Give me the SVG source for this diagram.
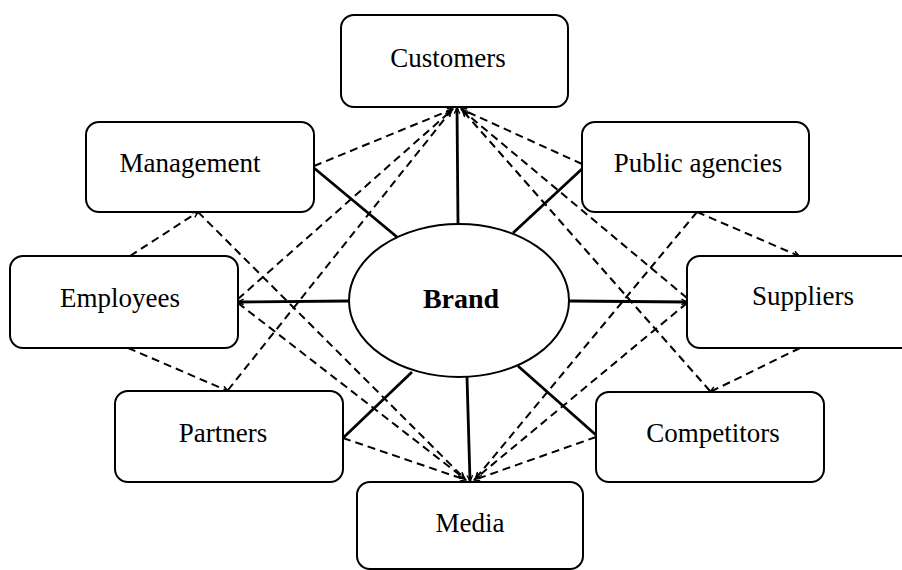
<svg xmlns="http://www.w3.org/2000/svg" width="902" height="570" viewBox="0 0 902 570">
<style>
.box{fill:#fff;stroke:#000;stroke-width:2}
.lbl{font-family:"Liberation Serif","Times New Roman",serif;font-size:27px;fill:#000;text-anchor:middle}
.brand{font-family:"Liberation Serif","Times New Roman",serif;font-size:28px;font-weight:bold;fill:#000;text-anchor:middle}
.solid{stroke:#000;stroke-width:2.8;fill:none}
.dash{stroke:#000;stroke-width:2;fill:none;stroke-dasharray:8 5}
</style>
<defs>
<marker id="ah" viewBox="0 0 10 10" refX="9" refY="5" markerWidth="7" markerHeight="7" markerUnits="userSpaceOnUse" orient="auto-start-reverse">
<path d="M1,1 L9,5 L1,9" fill="none" stroke="#000" stroke-width="2"/>
</marker>
</defs>
<rect width="902" height="570" fill="#fff"/>
<g id="connectors">
<line class="solid" x1="458" y1="224" x2="457" y2="108" marker-end="url(#ah)"/>
<line class="solid" x1="397" y1="237" x2="314" y2="168"/>
<line class="solid" x1="513" y1="233" x2="583" y2="168"/>
<line class="solid" x1="569" y1="301" x2="687" y2="302" marker-end="url(#ah)"/>
<line class="solid" x1="349" y1="301" x2="238" y2="302" marker-end="url(#ah)"/>
<line class="solid" x1="412" y1="372" x2="343" y2="438"/>
<line class="solid" x1="467" y1="377" x2="470" y2="481" marker-end="url(#ah)"/>
<line class="solid" x1="518" y1="366" x2="596" y2="435"/>
<line class="dash" x1="314" y1="166" x2="453" y2="109" marker-end="url(#ah)"/>
<line class="dash" x1="238" y1="299" x2="452" y2="110" marker-end="url(#ah)"/>
<line class="dash" x1="228" y1="390" x2="451" y2="111" marker-end="url(#ah)"/>
<line class="dash" x1="582" y1="164" x2="461" y2="109" marker-end="url(#ah)"/>
<line class="dash" x1="687" y1="298" x2="462" y2="110" marker-end="url(#ah)"/>
<line class="dash" x1="710" y1="391" x2="463" y2="111" marker-end="url(#ah)"/>
<line class="dash" x1="343" y1="438" x2="466" y2="480" marker-end="url(#ah)"/>
<line class="dash" x1="238" y1="303" x2="465" y2="479" marker-end="url(#ah)"/>
<line class="dash" x1="198" y1="212" x2="464" y2="478" marker-end="url(#ah)"/>
<line class="dash" x1="596" y1="437" x2="474" y2="480" marker-end="url(#ah)"/>
<line class="dash" x1="687" y1="303" x2="475" y2="479" marker-end="url(#ah)"/>
<line class="dash" x1="697" y1="212" x2="476" y2="478" marker-end="url(#ah)"/>
<line class="dash" x1="130" y1="256" x2="198" y2="212" marker-end="url(#ah)"/>
<line class="dash" x1="128" y1="348" x2="228" y2="391" marker-end="url(#ah)"/>
<line class="dash" x1="697" y1="212" x2="799" y2="256" marker-end="url(#ah)"/>
<line class="dash" x1="800" y1="348" x2="710" y2="392" marker-end="url(#ah)"/>
</g>
<g id="brand">
<ellipse cx="459" cy="300.5" rx="110" ry="76.5" fill="#fff" stroke="#000" stroke-width="2"/>
<text class="brand" x="461" y="308">Brand</text>
</g>
<g id="customers">
<rect class="box" x="341" y="15" width="227" height="92" rx="13"/>
<text class="lbl" x="448" y="67">Customers</text>
</g>
<g id="management">
<rect class="box" x="86" y="122" width="228" height="90" rx="13"/>
<text class="lbl" x="190" y="172">Management</text>
</g>
<g id="public-agencies">
<rect class="box" x="582" y="122" width="227" height="90" rx="13"/>
<text class="lbl" x="698" y="172">Public agencies</text>
</g>
<g id="employees">
<rect class="box" x="10" y="256" width="228" height="92" rx="13"/>
<text class="lbl" x="120" y="307">Employees</text>
</g>
<g id="suppliers">
<rect class="box" x="687" y="256" width="228" height="92" rx="13"/>
<text class="lbl" x="803" y="305">Suppliers</text>
</g>
<g id="partners">
<rect class="box" x="115" y="391" width="228" height="91" rx="13"/>
<text class="lbl" x="223" y="442">Partners</text>
</g>
<g id="competitors">
<rect class="box" x="596" y="392" width="228" height="90" rx="13"/>
<text class="lbl" x="713" y="442">Competitors</text>
</g>
<g id="media">
<rect class="box" x="357" y="482" width="226" height="87" rx="13"/>
<text class="lbl" x="470" y="532">Media</text>
</g>
</svg>
